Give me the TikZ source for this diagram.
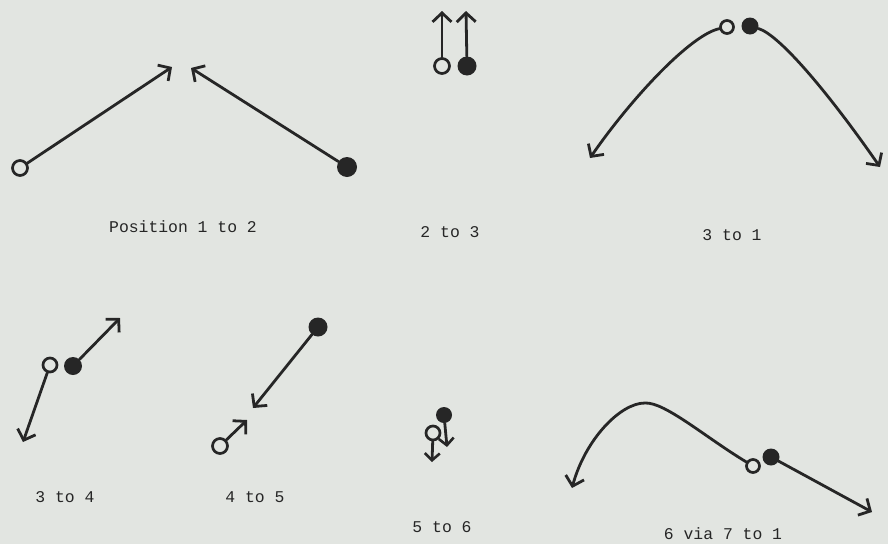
\documentclass[tikz,border=0pt]{standalone}
\usepackage{fontspec}
\setmonofont{Liberation Mono}
\usetikzlibrary{arrows.meta}
\definecolor{paper}{HTML}{E2E5E1}
\definecolor{ink}{HTML}{262626}
\begin{document}
\begin{tikzpicture}[x=1pt,y=-1pt,
 open/.style={circle,draw=ink,line width=2.7pt,inner sep=0pt,minimum size=13pt},
 full/.style={circle,fill=ink,inner sep=0pt,minimum size=17pt},
 mv/.style={draw=ink,line width=2.8pt,line cap=round,-{Straight Barb[length=9pt,width=19pt,line width=2.8pt]}},
 lab/.style={font=\ttfamily\fontsize{16.4}{18}\selectfont,text=ink}]
\fill[paper] (0,0) rectangle (888,544);
% Panel 1
\node[open,minimum size=15pt] (o1) at (20,168) {};
\node[full,minimum size=20pt] (f1) at (347,167) {};
\coordinate (t1a) at (172,67);
\coordinate (t1b) at (191,68);
\draw[mv] (o1) -- (t1a);
\draw[mv] (f1) -- (t1b);
\node[lab] (l1) at (183,227) {Position 1 to 2};
% Panel 2
\node[open,minimum size=15pt] (o2) at (442,66) {};
\node[full,minimum size=19pt] (f2) at (467,66) {};
\coordinate (t2a) at (442,11);
\coordinate (t2b) at (466,11);
\draw[mv] (o2) -- (t2a);
\draw[mv] (f2) -- (t2b);
\node[lab] (l2) at (450,232) {2 to 3};
% Panel 3
\node[open,minimum size=13pt] (o3) at (727,27) {};
\node[full,minimum size=17pt] (f3) at (750,26) {};
\coordinate (t3a) at (590,158);
\coordinate (t3b) at (880,167);
\draw[mv] (o3) .. controls (690,35) and (630,100) .. (t3a);
\draw[mv] (f3) .. controls (780,35) and (830,95) .. (t3b);
\node[lab] (l3) at (732,235) {3 to 1};
% Panel 4
\node[open,minimum size=14pt] (o4) at (50,365) {};
\node[full,minimum size=18pt] (f4) at (73,366) {};
\coordinate (t4a) at (120,318);
\coordinate (t4b) at (23,442);
\draw[mv] (f4) -- (t4a);
\draw[mv] (o4) -- (t4b);
\node[lab] (l4) at (65,497) {3 to 4};
% Panel 5
\node[full,minimum size=19pt] (f5) at (318,327) {};
\node[open,minimum size=15pt] (o5) at (220,446) {};
\coordinate (t5a) at (253,408);
\coordinate (t5b) at (247,420);
\draw[mv] (f5) -- (t5a);
\draw[mv] (o5) -- (t5b);
\node[lab] (l5) at (255,497) {4 to 5};
% Panel 6
\node[full,minimum size=16pt] (f6) at (444,415) {};
\node[open,minimum size=14pt] (o6) at (433,433) {};
\coordinate (t6a) at (447,447);
\coordinate (t6b) at (432,462);
\draw[mv,-{Straight Barb[length=7pt,width=15pt,line width=2.6pt]}] (f6) -- (t6a);
\draw[mv,-{Straight Barb[length=7pt,width=15pt,line width=2.6pt]}] (o6) -- (t6b);
\node[lab] (l6) at (442,527) {5 to 6};
% Panel 7
\node[open,minimum size=13pt] (o7) at (753,466) {};
\node[full,minimum size=17pt] (f7) at (771,457) {};
\coordinate (t7a) at (872,512);
\coordinate (pk7) at (645,403);
\coordinate (t7b) at (572,488);
\draw[mv] (f7) -- (t7a);
\draw[mv] (o7) .. controls (705,437) and (665,402) .. (pk7)
  .. controls (620,403) and (585,440) .. (t7b);
\node[lab] (l7) at (723,534) {6 via 7 to 1};
\end{tikzpicture}
\end{document}
